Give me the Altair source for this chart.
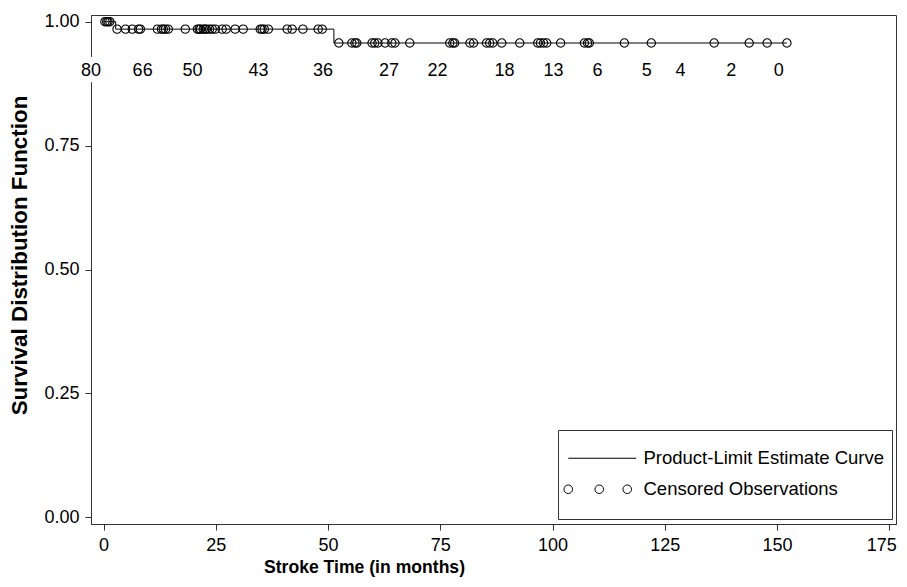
import altair as alt
import pandas as pd

# ---- data ----
curve_time = [0.0, 2.7, 51.3, 152.2]
curve_surv = [1.0, 0.985, 0.957, 0.957]

cens_time_1 = [0.3, 0.7, 1.0, 1.4]
cens_time_2 = [3.0, 4.9, 6.4, 7.8, 8.2, 12.0, 12.9, 13.3, 13.8, 14.4, 18.2,
               20.9, 21.3, 21.6, 22.2, 22.6, 22.9, 23.6, 24.2, 24.9, 26.4, 27.3,
               29.3, 31.1, 34.9, 35.3, 35.8, 36.7, 40.9, 42.0, 44.4, 47.8, 48.7]
cens_time_3 = [52.4, 55.3, 56.0, 56.4, 59.8, 60.4, 61.1, 62.7, 64.2, 64.9, 68.2,
               77.1, 77.8, 78.2, 81.6, 82.4, 85.3, 86.0, 86.7, 88.7, 92.7, 96.7,
               97.3, 98.0, 98.7, 101.8, 107.1, 107.8, 108.2, 116.0, 122.0, 136.0,
               143.8, 147.8, 152.2]
cens_surv = [1.0, 0.985, 0.957]

risk_time = [-2.8, 8.7, 19.8, 34.5, 48.9, 63.6, 74.4, 89.3, 100.2, 110.0,
             121.0, 128.5, 139.8, 150.4]
risk_count = [80, 66, 50, 43, 36, 27, 22, 18, 13, 6, 5, 4, 2, 0]

legend_labels = ["Product-Limit Estimate Curve", "Censored Observations"]
x_ticks = [0, 25, 50, 75, 100, 125, 150, 175]
y_ticks = [0.0, 0.25, 0.5, 0.75, 1.0]

# ---- tables ----
curve_df = pd.DataFrame({"time": curve_time, "surv": curve_surv})
cens_df = pd.DataFrame({
    "time": cens_time_1 + cens_time_2 + cens_time_3,
    "surv": [cens_surv[0]] * len(cens_time_1)
    + [cens_surv[1]] * len(cens_time_2)
    + [cens_surv[2]] * len(cens_time_3),
})
risk_df = pd.DataFrame({"time": risk_time, "n": risk_count})
legend_df = pd.DataFrame({"series": legend_labels})

FONT = "Liberation Sans"
INK = "#333333"

x_scale = alt.Scale(domain=[-2.8, 176.5], nice=False, zero=False)
y_scale = alt.Scale(domain=[-0.0135, 1.0135], nice=False, zero=False)

last_tick_shift = {"condition": {"test": f"datum.value === {x_ticks[-1]}", "value": -8},
                   "value": 0}

x_enc = alt.X("time:Q", scale=x_scale, axis=alt.Axis(
    values=x_ticks, format="d", title="Stroke Time (in months)",
    labelOffset=last_tick_shift,
    titleX=273, titleY=43, titleAlign="center", titleBaseline="middle",
    titleFontSize=17.6))
y_enc = alt.Y("surv:Q", scale=y_scale, axis=alt.Axis(
    values=y_ticks, format=".2f", title="Survival Distribution Function",
    titleX=-72, titleY=240, titleAlign="center", titleBaseline="middle",
    titleAngle=270, titleFontSize=22.4))

curve = alt.Chart(curve_df).mark_line(
    interpolate="step-after", color="black", strokeWidth=1
).encode(x=x_enc, y=y_enc)

circles = alt.Chart(cens_df).mark_point(
    shape="circle", filled=False, size=70, color="black", strokeWidth=1.1, opacity=1
).encode(x=alt.X("time:Q", scale=x_scale), y=alt.Y("surv:Q", scale=y_scale))

risk_halo = alt.Chart(risk_df).mark_text(
    font=FONT, fontSize=18, align="center", baseline="middle",
    fill="white", stroke="white", strokeWidth=14, strokeJoin="round"
).encode(x=alt.X("time:Q", scale=x_scale), y=alt.datum(0.9), text="n:Q")

risk_text = alt.Chart(risk_df).mark_text(
    font=FONT, fontSize=18, align="center", baseline="middle", color="black"
).encode(x=alt.X("time:Q", scale=x_scale), y=alt.datum(0.9), text="n:Q")

# legend symbols: unit-square paths (1 unit = 20.25 px)
r = 0.212
def ring(cx):
    return f"M{cx - r},0 A{r},{r} 0 1,0 {cx + r},0 A{r},{r} 0 1,0 {cx - r},0 Z "

line_path = "M-0.889,0 L2.469,0"
rings_path = (ring(-0.889) + ring(0.642) + ring(2.025)
              + "M-0.889,0.97 L-0.889,0.97")

legend_layer = alt.Chart(legend_df).transform_filter("false").mark_point(
    filled=False, color="black", strokeWidth=1, opacity=1
).encode(
    shape=alt.Shape("series:N", scale=alt.Scale(domain=legend_labels,
                                                range=[line_path, rings_path]),
                    legend=alt.Legend(
                        title=None, orient="none", legendX=467, legendY=415,
                        padding=7.25, strokeColor=INK, fillColor="white",
                        cornerRadius=0, labelFont=FONT, labelFontSize=18.5,
                        labelColor="black", labelOffset=36.25, labelLimit=400,
                        symbolSize=1640.25, symbolStrokeWidth=1,
                        symbolStrokeColor="black", rowPadding=0))
)

chart = alt.layer(curve, circles, risk_halo, risk_text, legend_layer).properties(
    width=805, height=509,
    autosize=alt.AutoSizeParams(type="none"),
    padding={"left": 83, "top": 7, "right": 3, "bottom": 53},
).configure(font=FONT).configure_view(
    stroke=INK, strokeWidth=1
).configure_axis(
    grid=False, domainColor=INK, tickColor=INK, tickSize=6, labelPadding=6,
    labelFont=FONT, labelFontSize=18, labelColor="black",
    titleFont=FONT, titleFontWeight="bold", titleColor="black"
)

chart.save("out.html", embed_options={"renderer": "svg", "actions": False})
